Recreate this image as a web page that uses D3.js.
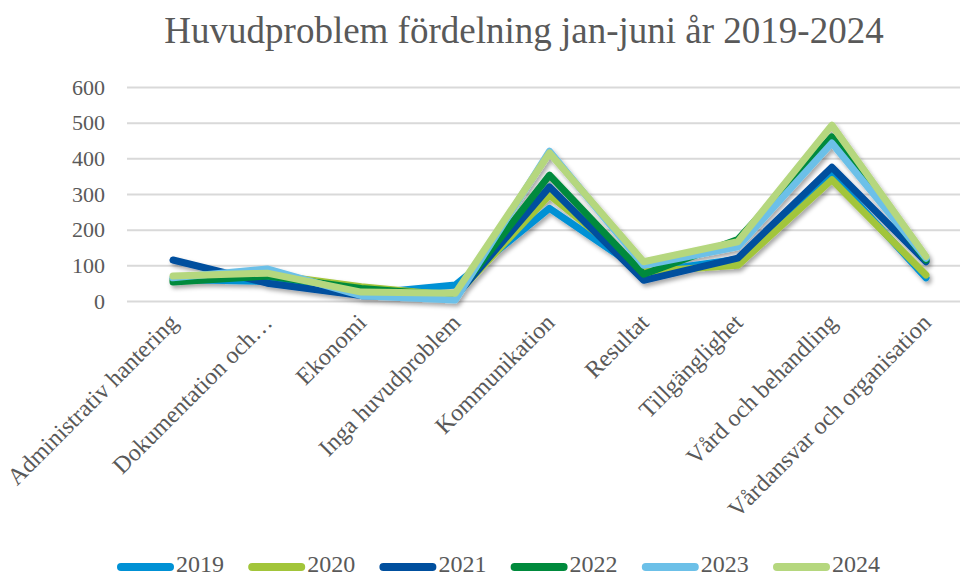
<!DOCTYPE html>
<html>
<head>
<meta charset="utf-8">
<script src="https://cdn.jsdelivr.net/npm/d3@7"></script>
<style>
  html, body { margin: 0; padding: 0; background: #fff; }
  svg { display: block; }
  text { font-family: "Liberation Serif", "Times New Roman", serif; fill: #595959; }
</style>
</head>
<body>
<svg id="chart" width="963" height="578"></svg>
<script>
const title = "Huvudproblem fördelning jan-juni år 2019-2024";
const categories = [
  "Administrativ hantering",
  "Dokumentation och…",
  "Ekonomi",
  "Inga huvudproblem",
  "Kommunikation",
  "Resultat",
  "Tillgänglighet",
  "Vård och behandling",
  "Vårdansvar och organisation"
];
const years = ["2019", "2020", "2021", "2022", "2023", "2024"];
const colors = ["#0091d5", "#a2c53a", "#004f9e", "#008a3c", "#6cc0e8", "#b5d77e"];
const v2019 = [60, 55, 20, 45, 260, 80, 117, 353, 65];
const v2020 = [60, 75, 40, 15, 297, 82, 100, 340, 73];
const v2021 = [115, 50, 15, 12, 320, 58, 120, 375, 110];
const v2022 = [53, 70, 35, 15, 353, 75, 172, 460, 115];
const v2023 = [65, 90, 15, 3, 420, 100, 152, 443, 120];
const v2024 = [70, 78, 25, 22, 415, 110, 166, 493, 125];
const seriesValues = [v2019, v2020, v2021, v2022, v2023, v2024];
const yTicks = [0, 100, 200, 300, 400, 500, 600];

const svg = d3.select("#chart");

const defs = svg.append("defs");
const f = defs.append("filter").attr("id", "shadow")
  .attr("x", "-10%").attr("y", "-10%").attr("width", "120%").attr("height", "130%");
f.append("feDropShadow").attr("dx", 2).attr("dy", 3).attr("stdDeviation", 2)
  .attr("flood-color", "#000").attr("flood-opacity", 0.35);

const x = d3.scalePoint().domain(categories).range([173, 926]);
const y = d3.scaleLinear().domain([0, 600]).range([301, 87]);

// title
svg.append("text")
  .attr("x", 524).attr("y", 43)
  .attr("text-anchor", "middle")
  .style("font-size", "37px")
  .text(title);

// gridlines + y labels
const yAxis = d3.axisLeft(y).tickValues(yTicks).tickSize(-(960 - 127)).tickPadding(22);
const gy = svg.append("g").attr("transform", "translate(127,0)").call(yAxis);
gy.select(".domain").remove();
gy.selectAll(".tick line").attr("stroke", "#d9d9d9").attr("stroke-width", 2);
gy.selectAll(".tick text").style("font-size", "22px").attr("fill", "#595959")
  .style("font-family", "'Liberation Serif', serif");

// x labels
const xAxis = d3.axisBottom(x).tickSize(0).tickPadding(0);
const gx = svg.append("g").attr("transform", "translate(0,301)").call(xAxis);
gx.select(".domain").remove();
gx.selectAll(".tick text")
  .style("font-size", "24px")
  .style("font-family", "'Liberation Serif', serif")
  .attr("fill", "#595959")
  .attr("text-anchor", "end")
  .attr("dy", null)
  .attr("y", 0)
  .attr("transform", "translate(6,23) rotate(-45)");

// lines
const line = d3.line().x((d, i) => x(categories[i])).y(d => y(d));
const lg = svg.append("g").attr("filter", "url(#shadow)");
seriesValues.forEach((vals, k) => {
  lg.append("path")
    .datum(vals)
    .attr("d", line)
    .attr("fill", "none")
    .attr("stroke", colors[k])
    .attr("stroke-width", 7)
    .attr("stroke-linejoin", "round")
    .attr("stroke-linecap", "round");
});

// legend
const leg = svg.append("g");
years.forEach((yr, k) => {
  const lx = 117 + k * 131.2;
  leg.append("line")
    .attr("x1", lx + 4).attr("x2", lx + 53)
    .attr("y1", 567).attr("y2", 567)
    .attr("stroke", colors[k]).attr("stroke-width", 8)
    .attr("stroke-linecap", "round");
  leg.append("text")
    .attr("x", lx + 59).attr("y", 572)
    .style("font-size", "24px")
    .text(yr);
});
</script>
</body>
</html>
